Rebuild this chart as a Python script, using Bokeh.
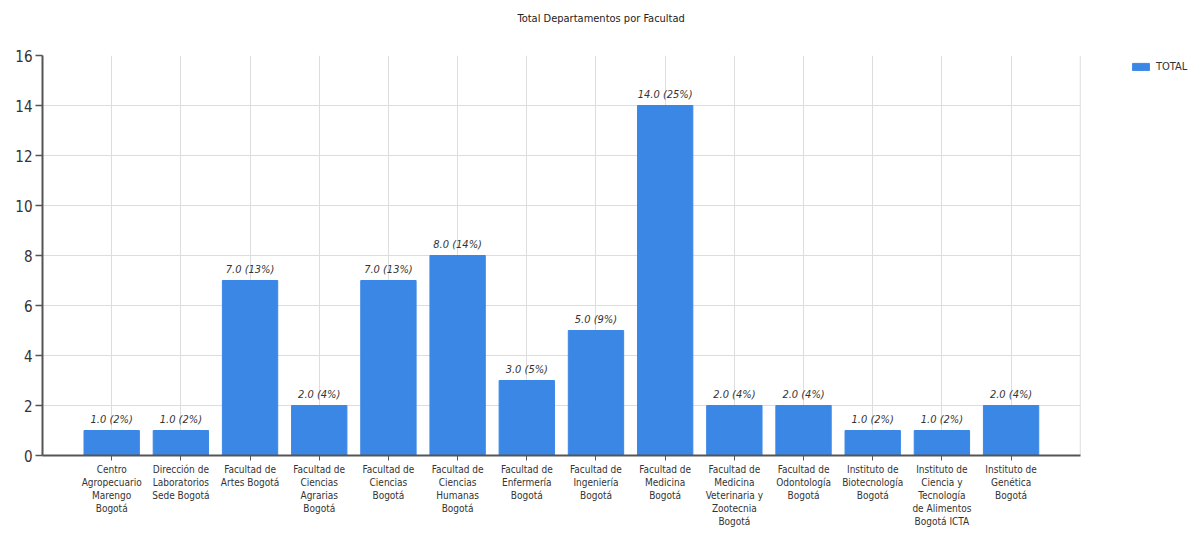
from bokeh.plotting import figure
from bokeh.models import (ColumnDataSource, Range1d, Legend, LegendItem, FixedTicker,
                          SingleIntervalTicker, Title, BoxAnnotation, Span)
from bokeh.core.properties import value
from bokeh.embed import file_html
from bokeh.resources import INLINE

categories = [
    "Centro\nAgropecuario\nMarengo\nBogotá",
    "Dirección de\nLaboratorios\nSede Bogotá",
    "Facultad de\nArtes Bogotá",
    "Facultad de\nCiencias\nAgrarias\nBogotá",
    "Facultad de\nCiencias\nBogotá",
    "Facultad de\nCiencias\nHumanas\nBogotá",
    "Facultad de\nEnfermería\nBogotá",
    "Facultad de\nIngeniería\nBogotá",
    "Facultad de\nMedicina\nBogotá",
    "Facultad de\nMedicina\nVeterinaria y\nZootecnia\nBogotá",
    "Facultad de\nOdontología\nBogotá",
    "Instituto de\nBiotecnología\nBogotá",
    "Instituto de\nCiencia y\nTecnología\nde Alimentos\nBogotá ICTA",
    "Instituto de\nGenética\nBogotá",
]
totals = [1, 1, 7, 2, 7, 8, 3, 5, 14, 2, 2, 1, 1, 2]
percents = [2, 2, 13, 4, 13, 14, 5, 9, 25, 4, 4, 2, 2, 4]
labels = [f"{v:.1f} ({pc}%)" for v, pc in zip(totals, percents)]
title_text = "Total Departamentos por Facultad"
legend_label = "TOTAL"

FONT = "DejaVu Sans Condensed, Liberation Sans, sans-serif"
BLUE = "#3b87e6"

xs = list(range(len(categories)))
n = len(categories)
src = ColumnDataSource(dict(x=xs, total=totals, label=labels))

# frame spans to the page's right edge so that the legend sits inside it;
# the chart area itself ends one slot after the last category
p = figure(
    x_range=Range1d(-1, 15.68),
    y_range=Range1d(0, 16),
    width=1196, height=535,
    output_backend="svg", toolbar_location=None,
    min_border_left=42, min_border_right=0, min_border_top=55, min_border_bottom=80,
)
p.title.visible = False

p.add_layout(Title(text=" ", text_font_size="1px", standoff=28), "above")
p.add_layout(Title(text=title_text, align="left", offset=475, standoff=0,
                   text_font=FONT, text_font_size="11px", text_font_style="normal",
                   text_color="#222222"), "above")

p.xgrid.grid_line_color = "#dddddd"
p.ygrid.grid_line_color = "#dddddd"
p.outline_line_color = None

# blank out the area right of the chart (legend area)
p.add_layout(BoxAnnotation(left=n, fill_color="white", fill_alpha=1.0,
                           line_color=None, level="underlay"))
p.add_layout(Span(location=n, dimension="height", line_color="#dddddd",
                  line_width=1, level="underlay"))

r = p.vbar(x="x", top="total", width=0.8, source=src, color=BLUE)
p.text(x="x", y="total", text="label", source=src, text_align="center",
       text_baseline="bottom", y_offset=-5, text_font=value(FONT),
       text_font_size="11px", text_font_style="italic", text_color="#333333")

p.yaxis.ticker = SingleIntervalTicker(interval=2)
p.yaxis.minor_tick_line_color = None
p.yaxis.major_tick_out = 7
p.yaxis.major_tick_in = 0
p.yaxis.major_label_text_font = FONT
p.yaxis.major_label_text_font_size = "15px"
p.yaxis.major_label_text_color = "#333333"
p.yaxis.axis_line_color = "#555555"
p.yaxis.axis_line_width = 2
p.yaxis.major_tick_line_color = "#555555"
p.yaxis.major_tick_line_width = 1.5
p.yaxis.major_label_standoff = 3

p.xaxis.ticker = FixedTicker(ticks=xs)
p.xaxis.major_label_overrides = {i: c for i, c in zip(xs, categories)}
p.xaxis.bounds = (-1, n)
p.xaxis.minor_tick_line_color = None
p.xaxis.major_tick_out = 5
p.xaxis.major_tick_in = 0
p.xaxis.major_label_text_font = FONT
p.xaxis.major_label_text_font_size = "10px"
p.xaxis.major_label_text_color = "#333333"
p.xaxis.axis_line_color = "#555555"
p.xaxis.axis_line_width = 2
p.xaxis.major_tick_line_color = "#555555"
p.xaxis.major_label_standoff = 3
p.xaxis.major_label_orientation = "horizontal"

legend = Legend(items=[LegendItem(label=legend_label, renderers=[r])],
                location=(1088, 382), padding=0, margin=0, spacing=0,
                glyph_width=21, glyph_height=9, label_height=10,
                label_text_font=FONT, label_text_font_size="11px",
                label_text_color="#333333", label_standoff=5,
                border_line_color=None, background_fill_alpha=0)
p.add_layout(legend, "center")

open("out.html", "w").write(file_html(p, INLINE))
